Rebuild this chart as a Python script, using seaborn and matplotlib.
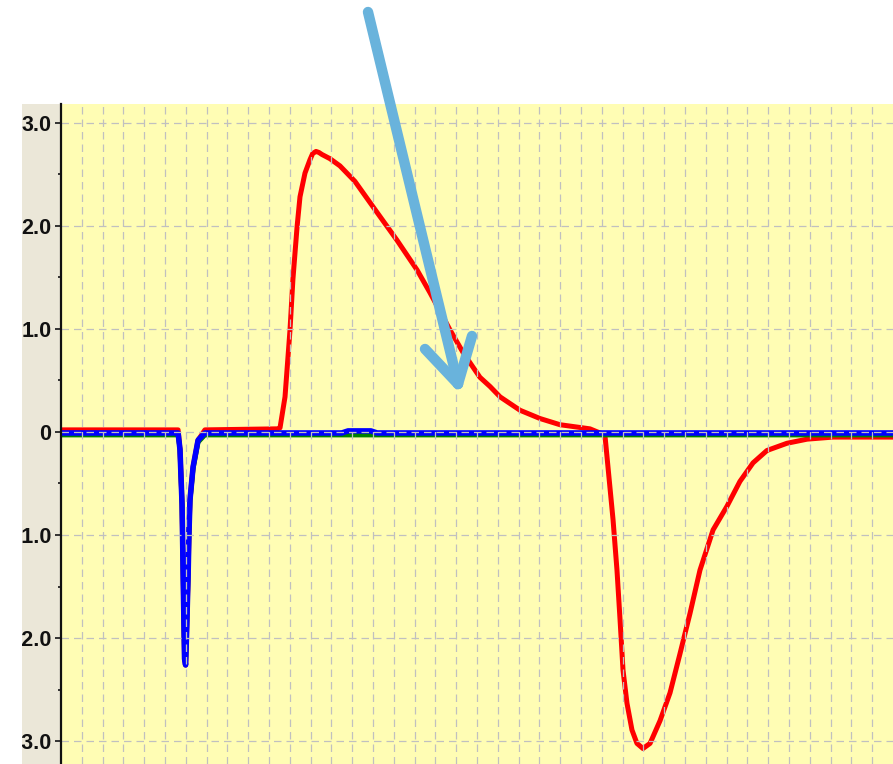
import matplotlib
matplotlib.use("Agg")
import matplotlib.pyplot as plt
import seaborn as sns
import numpy as np
from matplotlib.patches import Rectangle
from matplotlib.lines import Line2D

sns.set_theme(style="white")

# ---- data (time in grid divisions, signal in volts) ----
red_t = [0.0, 5.63, 5.72, 5.82, 5.89, 5.94, 5.99, 6.03, 6.11, 6.15, 6.20, 6.35, 6.59, 6.92,
         10.40, 10.53, 10.77, 11.01, 11.15, 11.35, 11.49, 11.73, 11.97, 12.10, 12.26, 12.40, 12.55, 12.93,
         13.41, 14.13, 15.19, 16.15, 17.12, 17.74, 18.70, 19.33, 20.14, 20.63, 21.11, 22.07,
         23.03, 23.99, 24.71, 25.43, 26.15, 26.54, 26.73, 26.88, 27.02, 27.21, 27.45, 27.69,
         27.98, 28.32, 28.80, 29.28, 29.76, 30.24, 30.72, 31.35, 32.02, 32.64, 33.27, 33.94,
         34.90, 35.87, 37.12, 40.0]
red_v = [0.02, 0.02, -0.17, -0.70, -1.60, -2.20, -2.26, -2.00, -1.40, -1.00, -0.66, -0.34, -0.08, 0.02,
         0.03, 0.04, 0.34, 0.99, 1.48, 1.99, 2.28, 2.51, 2.64, 2.70, 2.72, 2.71, 2.69, 2.65,
         2.58, 2.43, 2.13, 1.86, 1.57, 1.35, 0.99, 0.77, 0.53, 0.44, 0.34, 0.21,
         0.13, 0.07, 0.05, 0.03, -0.03, -0.85, -1.34, -1.83, -2.31, -2.63, -2.89, -3.02,
         -3.07, -3.02, -2.80, -2.53, -2.15, -1.76, -1.34, -0.95, -0.72, -0.48, -0.30, -0.18,
         -0.11, -0.07, -0.05, -0.05]

blue_t = [0.0, 5.63, 5.72, 5.82, 5.89, 5.94, 5.99, 6.03, 6.11, 6.15, 6.20, 6.35, 6.59, 6.92,
          13.5, 13.8, 14.9, 15.2, 40.0]
blue_v = [-0.01, -0.01, -0.17, -0.70, -1.60, -2.20, -2.26, -2.00, -1.40, -1.00, -0.66, -0.34, -0.08, -0.01,
          -0.01, 0.01, 0.01, -0.01, -0.01]

green_t = [0.0, 5.63, 5.72, 5.82, 5.89, 5.94, 5.99, 6.03, 6.11, 6.15, 6.20, 6.35, 6.59, 6.92, 40.0]
green_v = [-0.03, -0.03, -0.17, -0.72, -1.62, -2.20, -2.24, -2.00, -1.40, -1.00, -0.68, -0.36, -0.10, -0.03, -0.03]

ytick_vals = [-3.0, -2.0, -1.0, 0.0, 1.0, 2.0, 3.0]
ytick_labels = ["-3.0", "-2.0", "-1.0", "0", "1.0", "2.0", "3.0"]

# ---- figure ----
W, H = 893, 764
fig = plt.figure(figsize=(W / 100, H / 100), dpi=100)
fig.patch.set_facecolor("white")

ax_left, ax_top = 61, 104
ax = fig.add_axes([ax_left / W, 0, (W - ax_left) / W, (H - ax_top) / H])
ax.set_facecolor("#fffdb4")

# beige panel behind tick labels
fig.add_artist(Rectangle((22 / W, 0), (ax_left - 22) / W, (H - ax_top) / H,
                         transform=fig.transFigure, facecolor="#ebe7d8",
                         edgecolor="none", zorder=-1))

sns.lineplot(x=red_t, y=red_v, ax=ax, color="#ff0000", linewidth=3.6,
             sort=False, estimator=None, zorder=2.0)
sns.lineplot(x=green_t, y=green_v, ax=ax, color="#008000", linewidth=3.4,
             sort=False, estimator=None, zorder=2.1)
sns.lineplot(x=blue_t, y=blue_v, ax=ax, color="#0000ff", linewidth=4.0,
             sort=False, estimator=None, zorder=2.2)

ax.set_xlim(0, 40)
ax.set_ylim(-3.22, 3.18)

ax.set_xticks(np.arange(1, 40, 1))
ax.set_yticks(ytick_vals)
ax.set_yticklabels(ytick_labels)
ax.set_yticks([-2.5, -1.5, -0.5, 0.5, 1.5, 2.5], minor=True)

ax.grid(True, which="major", color="#c0c0c0", linestyle=(0, (6, 4)), linewidth=0.9)
ax.set_axisbelow(False)

ax.tick_params(axis="x", which="both", bottom=False, top=False, labelbottom=False)
ax.tick_params(axis="y", which="major", left=True, length=4, width=1.4, color="#333333",
               pad=3, labelsize=15.5, labelcolor="#111111")
ax.tick_params(axis="y", which="minor", left=True, length=2.5, width=1.4, color="#333333")
for lab in ax.get_yticklabels():
    lab.set_fontfamily(["Liberation Sans", "DejaVu Sans"])
    lab.set_fontweight("bold")

for s in ["top", "right", "bottom"]:
    ax.spines[s].set_visible(False)
ax.spines["left"].set_color("#111111")
ax.spines["left"].set_linewidth(1.6)
ax.spines["left"].set_zorder(3)
ax.set_xlabel("")
ax.set_ylabel("")

# white mask left of the beige panel (clips tick labels)
fig.add_artist(Rectangle((0, 0), 22 / W, 1, transform=fig.transFigure,
                         facecolor="white", edgecolor="none", zorder=10))

# annotation arrow (figure pixel coordinates, origin top-left)
def fp(x, y):
    return x / W, 1 - y / H

arrow_col = "#69b3dc"
segs = [((368, 12), (458, 384)), ((425, 349), (458, 384)), ((472, 336), (458, 384))]
for (p0, p1) in segs:
    x0, y0 = fp(*p0)
    x1, y1 = fp(*p1)
    fig.add_artist(Line2D([x0, x1], [y0, y1], transform=fig.transFigure,
                          color=arrow_col, linewidth=7.5, solid_capstyle="round",
                          zorder=11))

fig.savefig("out.png", dpi=100)
